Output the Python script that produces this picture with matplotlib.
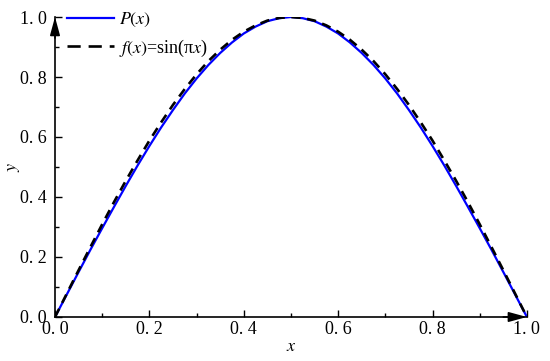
import matplotlib
matplotlib.use("Agg")
import matplotlib.pyplot as plt

x_vals = [0.000, 0.025, 0.050, 0.075, 0.100, 0.125, 0.150, 0.175, 0.200, 0.225,
          0.250, 0.275, 0.300, 0.325, 0.350, 0.375, 0.400, 0.425, 0.450, 0.475,
          0.500, 0.525, 0.550, 0.575, 0.600, 0.625, 0.650, 0.675, 0.700, 0.725,
          0.750, 0.775, 0.800, 0.825, 0.850, 0.875, 0.900, 0.925, 0.950, 0.975,
          1.000]
f_vals = [0.000, 0.078, 0.156, 0.233, 0.309, 0.383, 0.454, 0.522, 0.588, 0.649,
          0.707, 0.760, 0.809, 0.853, 0.891, 0.924, 0.951, 0.972, 0.988, 0.997,
          1.000, 0.997, 0.988, 0.972, 0.951, 0.924, 0.891, 0.853, 0.809, 0.760,
          0.707, 0.649, 0.588, 0.522, 0.454, 0.383, 0.309, 0.233, 0.156, 0.078,
          0.000]
p_vals = [0.000, 0.075, 0.150, 0.224, 0.296, 0.367, 0.437, 0.505, 0.570, 0.632,
          0.690, 0.745, 0.795, 0.840, 0.880, 0.915, 0.945, 0.968, 0.986, 0.996,
          1.000, 0.996, 0.986, 0.968, 0.945, 0.915, 0.880, 0.840, 0.795, 0.745,
          0.690, 0.632, 0.570, 0.505, 0.437, 0.367, 0.296, 0.224, 0.150, 0.075,
          0.000]
ticks = [0.0, 0.2, 0.4, 0.6, 0.8, 1.0]
tick_labels = ["0. 0", "0. 2", "0. 4", "0. 6", "0. 8", "1. 0"]

plt.rcParams['font.family'] = ['Liberation Serif', 'DejaVu Serif']
plt.rcParams['mathtext.fontset'] = 'stix'

fig = plt.figure(figsize=(5.5, 3.61), dpi=100)
ax = fig.add_axes([0.1, 0.1219, 0.858, 0.831])

ax.plot(x_vals, p_vals, color='#0000ff', lw=1.6, label=r'$P(x)$')
ax.plot(x_vals, f_vals, color='black', lw=1.9, ls=(0, (3.5, 2.5)),
        label=r'$f(x)$=sin(π$x$)')

ax.set_xlim(0, 1)
ax.set_ylim(0, 1)
ax.set_xticks(ticks)
ax.set_xticklabels(tick_labels)
ax.set_yticks(ticks)
ax.set_yticklabels(tick_labels)
ax.set_xticks([0.1, 0.3, 0.5, 0.7, 0.9], minor=True)
ax.set_yticks([0.1, 0.3, 0.5, 0.7, 0.9], minor=True)
ax.tick_params(which='major', direction='in', length=5, width=1, labelsize=13, pad=3)
ax.tick_params(which='minor', direction='in', length=3, width=1)
ax.tick_params(axis='y', pad=6)

for s in ['top', 'right']:
    ax.spines[s].set_visible(False)
for s in ['left', 'bottom']:
    ax.spines[s].set_linewidth(1.2)

# axis arrows
arrow = dict(arrowstyle='-|>,head_length=1.1,head_width=0.3', color='black',
             mutation_scale=10, shrinkA=0, shrinkB=0, lw=1.2)
ax.annotate('', xy=(1.0, 0), xytext=(0.95, 0), xycoords='axes fraction',
            arrowprops=arrow, annotation_clip=False)
ax.annotate('', xy=(0, 1.0), xytext=(0, 0.93), xycoords='axes fraction',
            arrowprops=arrow, annotation_clip=False)

ax.set_xlabel(r'$x$', fontsize=13, labelpad=0)
ax.set_ylabel(r'$y$', fontsize=13)
ax.yaxis.set_label_coords(-0.07, 0.5)

handles, labels = ax.get_legend_handles_labels()
leg = ax.legend(handles, labels, loc='upper left', frameon=False, fontsize=13,
                handlelength=2.6, borderaxespad=0.0, bbox_to_anchor=(0.01, 1.043),
                labelspacing=0.45, handletextpad=0.3)
leg.get_lines()[1].set_linestyle((0, (5, 3)))

fig.savefig('out.png', dpi=100)
